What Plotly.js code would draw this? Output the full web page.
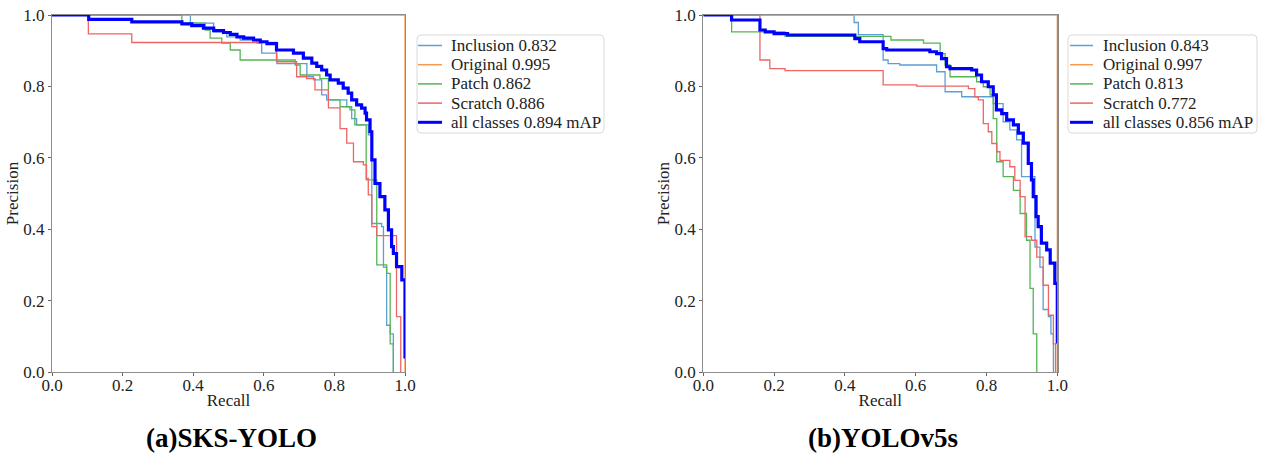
<!DOCTYPE html>
<html>
<head>
<meta charset="utf-8">
<script src="https://cdn.plot.ly/plotly-3.0.1.min.js"></script>
<style>html,body{margin:0;padding:0;background:#fff;}#chart{width:1263px;height:454px;}</style>
</head>
<body>
<div id="chart"></div>
<script>
// ---------- data ----------
const classNames = ['Inclusion', 'Original', 'Patch', 'Scratch'];
const apA = [0.832, 0.995, 0.862, 0.886];
const mapA = 0.894;
const apB = [0.843, 0.997, 0.813, 0.772];
const mapB = 0.856;
const captionA = '(a)SKS-YOLO';
const captionB = '(b)YOLOv5s';
const tickVals = [0, 0.2, 0.4, 0.6, 0.8, 1.0];
const tickText = ['0.0', '0.2', '0.4', '0.6', '0.8', '1.0'];

// (a) SKS-YOLO
const aIncR = [0, 0.392, 0.458, 0.495, 0.533, 0.580, 0.594, 0.637, 0.722, 0.741, 0.764, 0.778, 0.835, 0.849, 0.863, 0.896, 0.906, 0.934, 0.939, 0.948, 0.958, 0.967];
const aIncP = [1.0, 0.977, 0.953, 0.939, 0.930, 0.921, 0.893, 0.864, 0.827, 0.818, 0.776, 0.762, 0.743, 0.710, 0.692, 0.664, 0.416, 0.407, 0.294, 0.131, 0.107, 0.0];
const aOrigR = [0, 1.0, 1.0];
const aOrigP = [1.0, 1.0, 0.0];
const aPatR = [0, 0.368, 0.434, 0.448, 0.481, 0.505, 0.533, 0.689, 0.703, 0.759, 0.783, 0.816, 0.844, 0.858, 0.890, 0.920, 0.948, 0.958, 0.967];
const aPatP = [1.0, 0.977, 0.958, 0.935, 0.921, 0.902, 0.874, 0.860, 0.832, 0.822, 0.762, 0.743, 0.734, 0.692, 0.538, 0.300, 0.276, 0.079, 0.0];
const aScrR = [0, 0.103, 0.226, 0.636, 0.693, 0.721, 0.745, 0.783, 0.816, 0.835, 0.854, 0.882, 0.891, 0.896, 0.906, 0.920, 0.976, 0.988];
const aScrP = [1.0, 0.947, 0.923, 0.869, 0.827, 0.822, 0.790, 0.740, 0.682, 0.641, 0.589, 0.580, 0.542, 0.496, 0.407, 0.382, 0.155, 0.0];
const aAllR = [0, 0.104, 0.226, 0.368, 0.396, 0.429, 0.458, 0.486, 0.505, 0.524, 0.543, 0.571, 0.590, 0.609, 0.636, 0.684, 0.712, 0.736, 0.750, 0.764, 0.778, 0.788, 0.811, 0.825, 0.839, 0.849, 0.863, 0.877, 0.887, 0.891, 0.901, 0.906, 0.915, 0.929, 0.943, 0.953, 0.962, 0.967, 0.976, 0.991, 1.0];
const aAllP = [1.0, 0.988, 0.981, 0.975, 0.970, 0.963, 0.956, 0.951, 0.946, 0.939, 0.935, 0.930, 0.925, 0.920, 0.902, 0.893, 0.879, 0.865, 0.856, 0.846, 0.832, 0.818, 0.809, 0.795, 0.781, 0.762, 0.748, 0.739, 0.725, 0.706, 0.673, 0.594, 0.528, 0.491, 0.454, 0.398, 0.351, 0.332, 0.295, 0.258, 0.038];

// (b) YOLOv5s
const bIncR = [0, 0.426, 0.438, 0.508, 0.522, 0.555, 0.659, 0.683, 0.730, 0.819, 0.847, 0.866, 0.885, 0.899, 0.937, 0.951, 0.960, 0.975, 0.982, 0.989];
const bIncP = [1.0, 0.979, 0.945, 0.874, 0.864, 0.860, 0.841, 0.785, 0.771, 0.752, 0.701, 0.678, 0.650, 0.547, 0.350, 0.294, 0.175, 0.155, 0.107, 0.0];
const bOrigR = [0, 1.0, 1.0];
const bOrigP = [1.0, 1.0, 0.0];
const bPatR = [0, 0.080, 0.231, 0.530, 0.622, 0.669, 0.683, 0.697, 0.772, 0.791, 0.810, 0.819, 0.829, 0.847, 0.876, 0.895, 0.913, 0.923, 0.932, 0.942];
const bPatP = [1.0, 0.953, 0.940, 0.930, 0.921, 0.892, 0.860, 0.827, 0.813, 0.799, 0.776, 0.710, 0.589, 0.547, 0.509, 0.444, 0.369, 0.234, 0.107, 0.0];
const bScrR = [0, 0.160, 0.188, 0.231, 0.508, 0.603, 0.749, 0.767, 0.777, 0.791, 0.805, 0.815, 0.829, 0.838, 0.866, 0.880, 0.895, 0.909, 0.927, 0.942, 0.960, 0.975, 0.989, 0.995];
const bScrP = [1.0, 0.874, 0.850, 0.844, 0.804, 0.801, 0.794, 0.771, 0.762, 0.696, 0.673, 0.640, 0.617, 0.593, 0.575, 0.537, 0.491, 0.379, 0.369, 0.322, 0.243, 0.159, 0.079, 0.0];
const bAllR = [0, 0.080, 0.160, 0.175, 0.200, 0.238, 0.428, 0.442, 0.508, 0.518, 0.640, 0.659, 0.673, 0.687, 0.697, 0.758, 0.772, 0.786, 0.805, 0.819, 0.828, 0.843, 0.857, 0.876, 0.890, 0.904, 0.918, 0.927, 0.932, 0.940, 0.946, 0.955, 0.970, 0.980, 0.993, 1.0];
const bAllP = [1.0, 0.986, 0.958, 0.953, 0.948, 0.944, 0.934, 0.925, 0.906, 0.902, 0.897, 0.892, 0.878, 0.855, 0.850, 0.846, 0.832, 0.813, 0.799, 0.776, 0.734, 0.724, 0.706, 0.692, 0.669, 0.641, 0.584, 0.538, 0.491, 0.435, 0.407, 0.361, 0.342, 0.305, 0.248, 0.080];

// ---------- styling ----------
const W = 1263, H = 454;
const FONT = 'Liberation Serif, serif';
const classColors = ['#5a9fd6', '#f59a50', '#55b455', '#ef6464'];
const allColor = '#0000ff';

const panels = [
  {xa: 'x', ya: 'y', series: [[aIncR, aIncP], [aOrigR, aOrigP], [aPatR, aPatP], [aScrR, aScrP]], all: [aAllR, aAllP], ap: apA, map: mapA,
   legBox: [417, 35, 604, 133], legLine: [418, 442], legText: 449, caption: captionA, capX: 231},
  {xa: 'x2', ya: 'y2', series: [[bIncR, bIncP], [bOrigR, bOrigP], [bPatR, bPatP], [bScrR, bScrP]], all: [bAllR, bAllP], ap: apB, map: mapB,
   legBox: [1068, 35, 1257, 133], legLine: [1070, 1093], legText: 1101, caption: captionB, capX: 883}
];

const px = v => v / W;
const py = v => 1 - v / H;

const traces = [];
const shapes = [];
const annotations = [];

panels.forEach(p => {
  p.series.forEach((s, i) => {
    traces.push({
      x: s[0], y: s[1], type: 'scatter', mode: 'lines', xaxis: p.xa, yaxis: p.ya,
      name: classNames[i] + ' ' + p.ap[i].toFixed(3),
      line: {shape: 'hv', color: classColors[i], width: 1.3},
      showlegend: false, hoverinfo: 'x+y+name'
    });
  });
  traces.push({
    x: p.all[0], y: p.all[1], type: 'scatter', mode: 'lines', xaxis: p.xa, yaxis: p.ya,
    name: 'all classes ' + p.map.toFixed(3) + ' mAP',
    line: {shape: 'hv', color: allColor, width: 3.2},
    showlegend: false, hoverinfo: 'x+y+name'
  });

  // legend box (rounded)
  const [bx0, by0, bx1, by1] = p.legBox, r = 4;
  const path = `M ${px(bx0 + r)} ${py(by0)} L ${px(bx1 - r)} ${py(by0)} Q ${px(bx1)} ${py(by0)} ${px(bx1)} ${py(by0 + r)} ` +
    `L ${px(bx1)} ${py(by1 - r)} Q ${px(bx1)} ${py(by1)} ${px(bx1 - r)} ${py(by1)} L ${px(bx0 + r)} ${py(by1)} ` +
    `Q ${px(bx0)} ${py(by1)} ${px(bx0)} ${py(by1 - r)} L ${px(bx0)} ${py(by0 + r)} Q ${px(bx0)} ${py(by0)} ${px(bx0 + r)} ${py(by0)} Z`;
  shapes.push({type: 'path', xref: 'paper', yref: 'paper', path: path, line: {color: '#d9d9d9', width: 1}, fillcolor: 'rgba(255,255,255,0.85)', layer: 'above'});

  const labels = classNames.map((c, i) => c + ' ' + p.ap[i].toFixed(3)).concat(['all classes ' + p.map.toFixed(3) + ' mAP']);
  const colors = classColors.concat([allColor]);
  labels.forEach((lab, i) => {
    const yy = 45.5 + i * 19.2;
    shapes.push({type: 'line', xref: 'paper', yref: 'paper', x0: px(p.legLine[0]), x1: px(p.legLine[1]), y0: py(yy), y1: py(yy),
      line: {color: colors[i], width: i === 4 ? 3 : 1.5}, layer: 'above'});
    annotations.push({xref: 'paper', yref: 'paper', x: px(p.legText), y: py(yy), xanchor: 'left', yanchor: 'middle',
      text: lab, showarrow: false, font: {family: FONT, size: 17, color: '#222'}});
  });

  annotations.push({xref: 'paper', yref: 'paper', x: px(p.capX), y: py(438), xanchor: 'center', yanchor: 'middle',
    text: '<b>' + p.caption + '</b>', showarrow: false, font: {family: FONT, size: 27, color: '#000'}});
});

const axBase = {
  range: [0, 1], tickvals: tickVals, ticktext: tickText, ticks: 'outside', ticklen: 3, tickcolor: '#666',
  showline: true, mirror: true, linecolor: '#8c8c8c', linewidth: 1.2, showgrid: false, zeroline: false,
  tickfont: {family: FONT, size: 17, color: '#222'}, fixedrange: true
};
const yDom = [1 - 372 / H, 1 - 15 / H];
const xTitle = {text: 'Recall', font: {family: FONT, size: 17, color: '#222'}, standoff: 0};
const yTitle = {text: 'Precision', font: {family: FONT, size: 17, color: '#222'}, standoff: 0};

const layout = {
  width: W, height: H, margin: {l: 0, r: 0, t: 0, b: 0}, paper_bgcolor: '#fff', plot_bgcolor: '#fff',
  font: {family: FONT, color: '#222'}, showlegend: false,
  xaxis: Object.assign({}, axBase, {domain: [52 / W, 405 / W], anchor: 'y', ticklabelstandoff: -6, title: xTitle}),
  yaxis: Object.assign({}, axBase, {domain: yDom, anchor: 'x', title: yTitle}),
  xaxis2: Object.assign({}, axBase, {domain: [703.3 / W, 1057.3 / W], anchor: 'y2', ticklabelstandoff: -6, title: xTitle}),
  yaxis2: Object.assign({}, axBase, {domain: yDom, anchor: 'x2', title: yTitle}),
  shapes: shapes, annotations: annotations
};

Plotly.newPlot('chart', traces, layout, {displayModeBar: false, staticPlot: true});
</script>
</body>
</html>
